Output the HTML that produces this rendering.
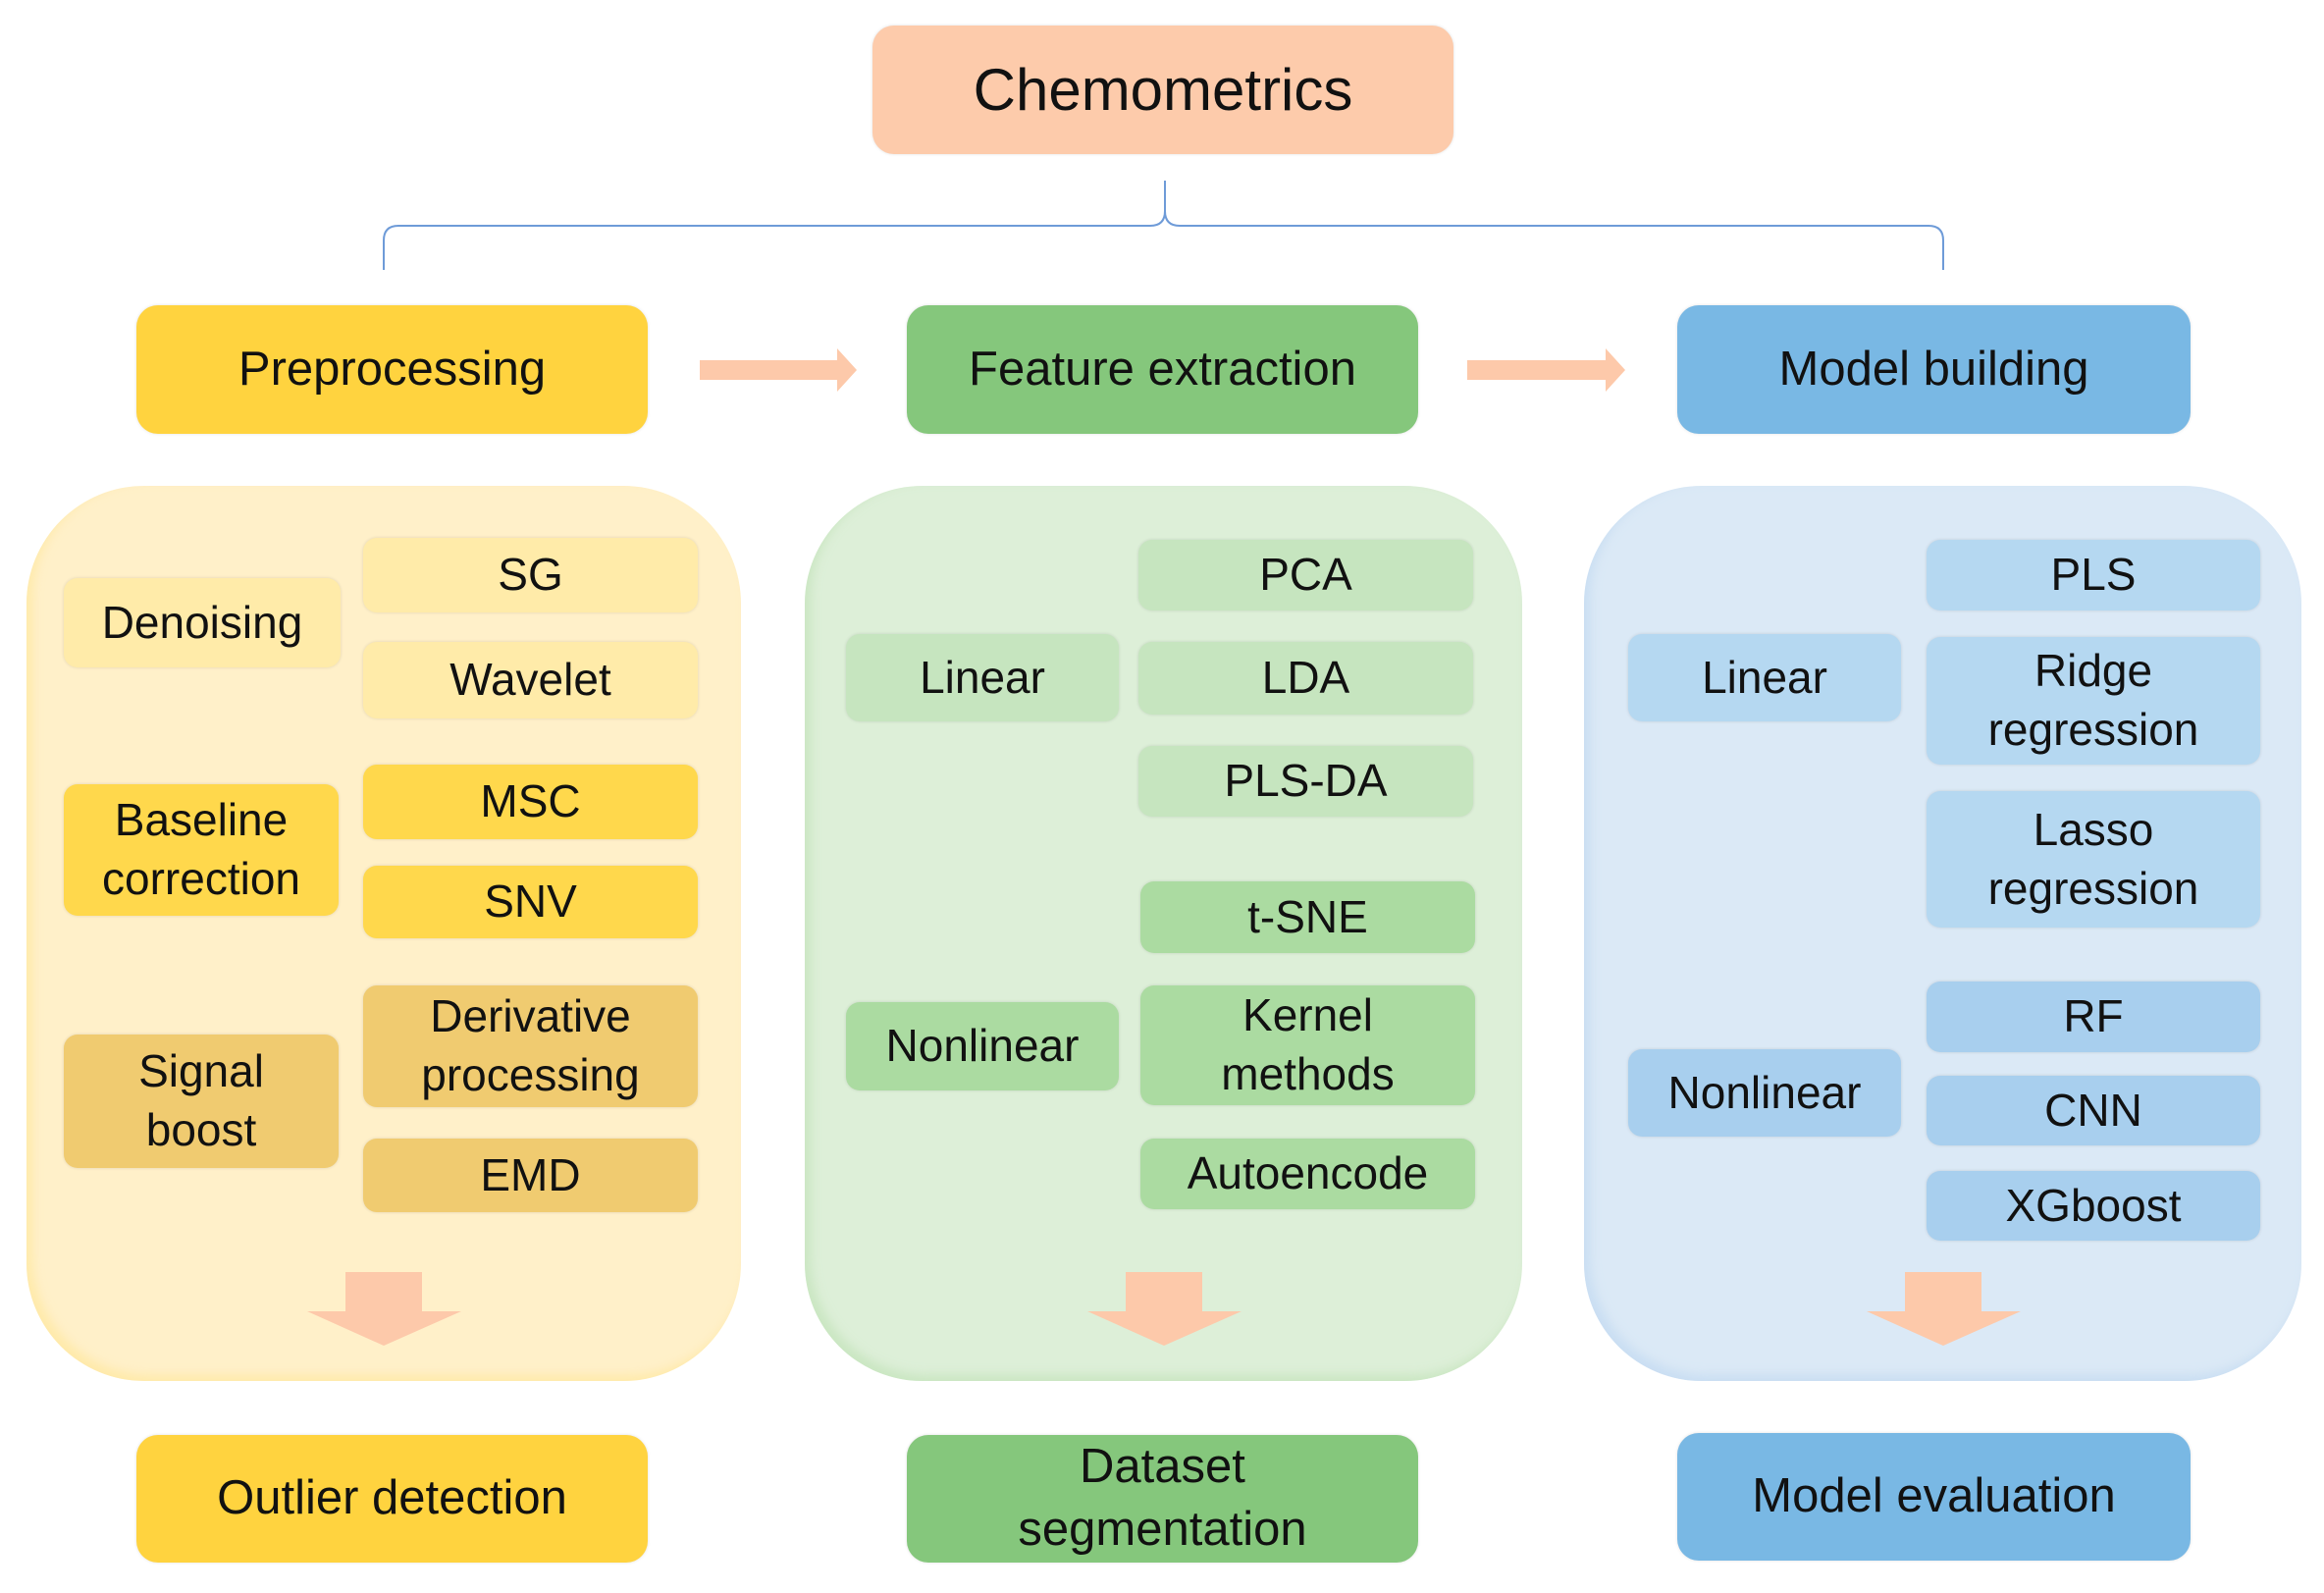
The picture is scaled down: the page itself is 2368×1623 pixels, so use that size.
<!DOCTYPE html>
<html><head><meta charset="utf-8"><style>
body{margin:0;width:2368px;height:1623px;background:#fff;position:relative;overflow:hidden;font-family:"Liberation Sans",Arial,sans-serif;}
.b{position:absolute;display:flex;align-items:center;justify-content:center;text-align:center;color:#111;border-radius:18px;line-height:1.3;box-shadow:0 0 3px rgba(0,0,0,0.12);}
.t{font-size:49px;border-radius:22px;}
.i{font-size:46px;border-radius:14px;}
.p{position:absolute;border-radius:120px;}
</style></head><body>
<svg width="2368" height="1623" style="position:absolute;left:0;top:0">
<path d="M391 275 L391 245 Q391 230 406 230 L1172 230 Q1187 230 1187 215 L1187 184 M1187 215 Q1187 230 1202 230 L1965 230 Q1980 230 1980 245 L1980 275" fill="none" stroke="#6e9bd8" stroke-width="2"/>
<polygon points="713,367 853,367 853,355 873,377 853,399 853,387 713,387" fill="#fdc9aa"/>
<polygon points="1495,367 1636,367 1636,355 1656,377 1636,399 1636,387 1495,387" fill="#fdc9aa"/>
</svg>
<div class="b" style="left:889px;top:26px;width:592px;height:131px;background:#fdcbab;font-size:60px;border-radius:22px">Chemometrics</div>
<div class="b t" style="left:139px;top:311px;width:521px;height:131px;background:#ffd33f">Preprocessing</div>
<div class="b t" style="left:924px;top:311px;width:521px;height:131px;background:#85c77c">Feature extraction</div>
<div class="b t" style="left:1709px;top:311px;width:523px;height:131px;background:#79b8e4">Model building</div>

<div class="p" style="left:27px;top:495px;width:728px;height:912px;background:#fff0c9;box-shadow:inset 6px -6px 10px rgba(255,230,150,0.6)"></div>
<div class="p" style="left:820px;top:495px;width:731px;height:912px;background:#ddefd8;box-shadow:inset 6px -6px 10px rgba(190,225,180,0.6)"></div>
<div class="p" style="left:1614px;top:495px;width:731px;height:912px;background:#dbe9f6;box-shadow:inset 6px -6px 10px rgba(190,215,240,0.6)"></div>

<div class="b i" style="left:65px;top:589px;width:282px;height:91px;background:#ffeba9">Denoising</div>
<div class="b i" style="left:370px;top:548px;width:341px;height:76px;background:#ffeba9">SG</div>
<div class="b i" style="left:370px;top:654px;width:341px;height:78px;background:#ffeba9">Wavelet</div>
<div class="b i" style="left:65px;top:799px;width:280px;height:134px;background:#ffd84c">Baseline<br>correction</div>
<div class="b i" style="left:370px;top:779px;width:341px;height:76px;background:#ffd84c">MSC</div>
<div class="b i" style="left:370px;top:882px;width:341px;height:74px;background:#ffd84c">SNV</div>
<div class="b i" style="left:65px;top:1054px;width:280px;height:136px;background:#f0cb70">Signal<br>boost</div>
<div class="b i" style="left:370px;top:1004px;width:341px;height:124px;background:#f0cb70">Derivative<br>processing</div>
<div class="b i" style="left:370px;top:1160px;width:341px;height:75px;background:#f0cb70">EMD</div>

<div class="b i" style="left:862px;top:646px;width:278px;height:89px;background:#c6e5bf">Linear</div>
<div class="b i" style="left:1160px;top:550px;width:341px;height:72px;background:#c6e5bf">PCA</div>
<div class="b i" style="left:1160px;top:654px;width:341px;height:74px;background:#c6e5bf">LDA</div>
<div class="b i" style="left:1160px;top:760px;width:341px;height:72px;background:#c6e5bf">PLS-DA</div>
<div class="b i" style="left:862px;top:1021px;width:278px;height:90px;background:#abdba1">Nonlinear</div>
<div class="b i" style="left:1162px;top:898px;width:341px;height:73px;background:#abdba1">t-SNE</div>
<div class="b i" style="left:1162px;top:1004px;width:341px;height:122px;background:#abdba1">Kernel<br>methods</div>
<div class="b i" style="left:1162px;top:1160px;width:341px;height:72px;background:#abdba1">Autoencode</div>

<div class="b i" style="left:1659px;top:646px;width:278px;height:89px;background:#b5d8f1">Linear</div>
<div class="b i" style="left:1963px;top:550px;width:340px;height:72px;background:#b5d8f1">PLS</div>
<div class="b i" style="left:1963px;top:649px;width:340px;height:130px;background:#b5d8f1">Ridge<br>regression</div>
<div class="b i" style="left:1963px;top:806px;width:340px;height:139px;background:#b5d8f1">Lasso<br>regression</div>
<div class="b i" style="left:1659px;top:1069px;width:278px;height:89px;background:#a8cfee">Nonlinear</div>
<div class="b i" style="left:1963px;top:1000px;width:340px;height:72px;background:#a8cfee">RF</div>
<div class="b i" style="left:1963px;top:1096px;width:340px;height:71px;background:#a8cfee">CNN</div>
<div class="b i" style="left:1963px;top:1193px;width:340px;height:71px;background:#a8cfee">XGboost</div>

<svg width="2368" height="1623" style="position:absolute;left:0;top:0">
<polygon points="352,1296 430,1296 430,1336 470,1336 391,1371 313,1336 352,1336" fill="#fdc9aa"/>
<polygon points="1147,1296 1225,1296 1225,1336 1265,1336 1186,1371 1108,1336 1147,1336" fill="#fdc9aa"/>
<polygon points="1941,1296 2019,1296 2019,1336 2059,1336 1980,1371 1902,1336 1941,1336" fill="#fdc9aa"/>
</svg>

<div class="b t" style="left:139px;top:1462px;width:521px;height:130px;background:#ffd33f">Outlier detection</div>
<div class="b t" style="left:924px;top:1462px;width:521px;height:130px;background:#85c77c">Dataset<br>segmentation</div>
<div class="b t" style="left:1709px;top:1460px;width:523px;height:130px;background:#79b8e4">Model evaluation</div>
</body></html>
